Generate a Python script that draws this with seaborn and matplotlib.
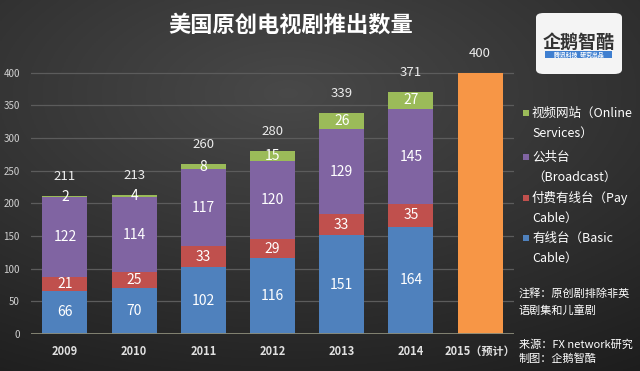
import numpy as np
import pandas as pd
import matplotlib
matplotlib.use("Agg")
import matplotlib.pyplot as plt
import seaborn as sns
from matplotlib.patches import FancyBboxPatch, Rectangle

# ---------------- data ----------------
categories = ["2009", "2010", "2011", "2012", "2013", "2014", "2015（预计）"]
years = ["2009", "2010", "2011", "2012", "2013", "2014"]
basic_cable = [66, 70, 102, 116, 151, 164]
pay_cable = [21, 25, 33, 29, 33, 35]
broadcast = [122, 114, 117, 120, 129, 145]
online = [2, 4, 8, 15, 26, 27]
forecast_2015 = 400
y_ticks = [0, 50, 100, 150, 200, 250, 300, 350, 400]
series_labels = ["有线台（Basic\nCable）", "付费有线台（Pay\nCable）",
                 "公共台\n（Broadcast）", "视频网站（Online\nServices）"]
title = "美国原创电视剧推出数量"
note_lines = ["注释：原创剧排除非英", "语剧集和儿童剧"]
source_lines = ["来源：FX network研究", "制图：企鹅智酷"]

# ---------------- style ----------------
plt.rcParams['font.family'] = ['Noto Sans CJK SC', 'DejaVu Sans']
colors = ["#4f81bd", "#c0504d", "#8064a2", "#9bbb59"]
orange = "#f79646"

W, H = 640, 371
fig = plt.figure(figsize=(W / 100, H / 100), dpi=100)

# background gradient
bg = fig.add_axes([0, 0, 1, 1], zorder=-10)
yy, xx = np.mgrid[0:1:200j, 0:1:300j]
d = np.sqrt(((xx - 0.45) / 1.0) ** 2 + ((yy - 0.25) / 0.9) ** 2)
v = np.clip(0.285 - 0.17 * d, 0.1, 0.3)
bg.imshow(np.dstack([v, v, v]), extent=[0, 1, 0, 1], aspect='auto', origin='upper')
bg.axis('off')

ax = fig.add_axes([31 / W, (H - 334) / H, (514 - 31) / W, (334 - 72) / H])
ax.set_facecolor('none')

layers = [basic_cable, pay_cable, broadcast, online]
n = len(years)
cum = np.cumsum(np.array(layers), axis=0)  # cumulative tops per layer
totals = cum[-1]

# draw cumulative bars from top layer down (overplotting = stacking)
for i in range(len(layers) - 1, -1, -1):
    df = pd.DataFrame({"cat": categories, "val": list(cum[i]) + [0]})
    sns.barplot(data=df, x="cat", y="val", order=categories, color=colors[i],
                saturation=1, width=0.65, errorbar=None, ax=ax, linewidth=0)
df_o = pd.DataFrame({"cat": categories, "val": [0] * n + [forecast_2015]})
sns.barplot(data=df_o, x="cat", y="val", order=categories, color=orange,
            saturation=1, width=0.65, errorbar=None, ax=ax, linewidth=0)

# segment labels
for i, layer in enumerate(layers):
    bottoms = cum[i] - np.array(layer)
    for j, val in enumerate(layer):
        ax.text(j, bottoms[j] + val / 2, str(val), ha='center', va='center',
                color='white', fontsize=10, zorder=5)

# totals
all_totals = list(totals) + [forecast_2015]
for j, t in enumerate(all_totals):
    ax.annotate(str(t), (j, t), xytext=(0, 14), textcoords='offset points',
                ha='center', va='center', color='#ececec', fontsize=9.5,
                annotation_clip=False)

ax.set_xlim(-0.49, len(categories) - 0.51)
ax.set_ylim(0, 401)
ax.set_yticks(y_ticks)
ax.set_xlabel("")
ax.set_ylabel("")
for s in ax.spines.values():
    s.set_visible(False)
ax.grid(axis='y', color='#5c5c5c', linewidth=0.9)
ax.set_axisbelow(True)
ax.axhline(0, color='#8a8a78', linewidth=1.3, zorder=4)
ax.tick_params(axis='y', length=0, pad=8, labelsize=7, labelcolor='#d0d0d0')
ax.tick_params(axis='x', length=0, pad=8, labelsize=8, labelcolor='#e0e0e0')
for lab in ax.get_xticklabels():
    lab.set_fontweight('bold')

# title
fig.text(291 / W, 1 - 25 / H, title, ha='center', va='center', color='white',
         fontsize=16, fontweight='bold')

# logo
logo = FancyBboxPatch((536 / W, 1 - 74 / H), 86 / W, 61 / H,
                      boxstyle="round,pad=0,rounding_size=0.012",
                      transform=fig.transFigure, facecolor='#f4f4f4',
                      edgecolor='none')
fig.patches.append(logo)
fig.text(579 / W, 1 - 42 / H, "企鹅智酷", ha='center', va='center',
         color='#333333', fontsize=13, fontweight='bold')
fig.patches.append(Rectangle((545 / W, 1 - 58 / H), 67 / W, 7 / H,
                             transform=fig.transFigure, facecolor='#3f7fd0',
                             edgecolor='none'))
fig.text(579 / W, 1 - 54.5 / H, "腾讯科技  研究出品", ha='center', va='center',
         color='white', fontsize=4.2, fontweight='bold')

# legend (top to bottom: online, broadcast, pay, basic)
first_line_y = [113, 157, 198, 238]
for k, idx in enumerate([3, 2, 1, 0]):
    y0 = first_line_y[k]
    fig.patches.append(Rectangle((523 / W, 1 - (y0 + 3) / H), 6 / W, 6 / H,
                                 transform=fig.transFigure,
                                 facecolor=colors[idx], edgecolor='none'))
    lines = series_labels[idx].split("\n")
    for m, line in enumerate(lines):
        fig.text(532 / W, 1 - (y0 + 20.5 * m) / H, line, ha='left', va='center',
                 color='white', fontsize=9)

# notes
for m, line in enumerate(note_lines):
    fig.text(519 / W, 1 - (293 + 17 * m) / H, line, ha='left', va='center',
             color='white', fontsize=8, style='italic')
for m, line in enumerate(source_lines):
    fig.text(519 / W, 1 - (345 + 14 * m) / H, line, ha='left', va='center',
             color='white', fontsize=8, style='italic')

fig.savefig("out.png", dpi=100)
